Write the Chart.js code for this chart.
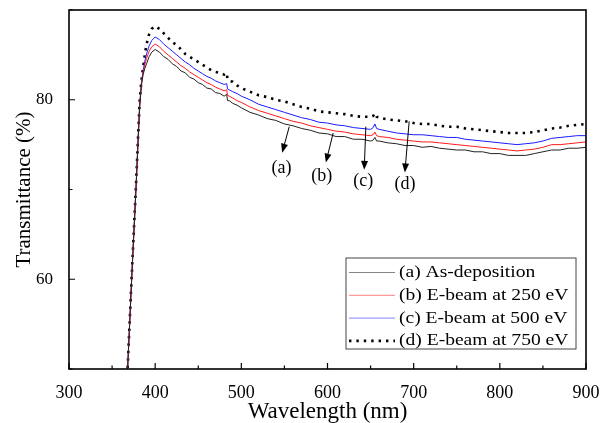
<!DOCTYPE html>
<html lang="en">
<head>
  <meta charset="UTF-8" />
  <title>Transmittance</title>
  <script src="https://cdn.jsdelivr.net/npm/chart.js@4.4.1/dist/chart.umd.min.js"></script>
  <style>
    body { margin: 0; background: #fff; }
  </style>
</head>
<body>
  <canvas id="transChart" width="610" height="423"></canvas>
<script>
  // wavelength (nm)
  const wavelength = [365,368,370,373,376,378,380,382,384,386,388,390,393,396,400,
    405,410,415,420,425,430,435,440,445,450,455,460,465,470,475,480,
    483,484,486,490,495,500,
    510,520,530,540,550,560,570,580,590,600,610,620,630,640,650,
    653,655,657,
    660,670,680,690,700,710,720,730,740,750,760,770,780,790,800,810,820,830,840,850,860,870,880,890,900];

  const asDeposition = [46.0,50.0,54.2,60.6,66.6,70.6,75.0,79.2,81.6,82.8,83.5,84.0,84.8,85.3,85.6,
    85.3,84.8,84.5,84.0,83.7,83.2,83.0,82.5,82.3,81.9,81.7,81.3,81.2,80.8,80.7,80.4,
    80.6,79.9,79.9,79.6,79.4,79.1,
    78.6,78.3,77.9,77.7,77.3,77.1,76.8,76.6,76.3,76.2,75.9,75.9,75.6,75.6,75.4,
    75.5,75.8,75.4,
    75.4,75.2,75.1,74.9,74.9,74.7,74.8,74.6,74.5,74.4,74.4,74.2,74.2,74.0,74.0,73.8,73.8,73.8,74.0,74.2,74.4,74.4,74.6,74.6,74.7];

  const ebeam250 = [46.0,50.0,54.2,60.6,66.6,70.6,75.0,79.3,81.7,83.0,83.9,84.6,85.4,85.9,86.2,
    85.9,85.4,85.0,84.6,84.2,83.8,83.5,83.1,82.8,82.5,82.2,81.9,81.7,81.4,81.2,81.0,
    81.1,80.5,80.4,80.2,79.9,79.7,
    79.2,78.8,78.5,78.2,77.9,77.6,77.4,77.1,76.9,76.7,76.5,76.4,76.2,76.1,76.0,
    76.1,76.4,76.0,
    75.9,75.8,75.6,75.5,75.4,75.3,75.3,75.2,75.1,75.0,74.9,74.8,74.7,74.6,74.5,74.4,74.3,74.4,74.5,74.7,75.0,75.0,75.1,75.2,75.3];

  const ebeam500 = [46.0,50.0,54.3,60.7,66.7,70.8,75.2,79.5,81.8,83.2,84.3,85.1,86.0,86.6,87.0,
    86.7,86.2,85.8,85.4,85.0,84.6,84.2,83.9,83.5,83.2,82.9,82.6,82.4,82.1,81.9,81.7,
    81.8,81.2,81.1,80.9,80.7,80.4,
    80.0,79.5,79.2,78.9,78.6,78.3,78.0,77.8,77.5,77.4,77.2,77.1,76.9,76.8,76.7,
    76.9,77.3,76.8,
    76.7,76.5,76.3,76.2,76.1,76.1,76.0,75.9,75.8,75.8,75.6,75.5,75.4,75.3,75.2,75.1,75.0,75.1,75.2,75.4,75.7,75.8,75.9,76.0,76.0];

  const ebeam750 = [46.0,50.0,54.4,60.8,66.9,71.0,75.5,79.8,82.1,83.6,85.0,86.2,87.3,87.9,88.2,
    87.9,87.4,86.9,86.4,86.1,85.6,85.1,84.8,84.5,84.2,83.9,83.6,83.3,83.1,83.0,82.8,
    83.0,82.3,82.1,82.0,81.6,81.3,
    80.9,80.5,80.3,80.0,79.8,79.5,79.2,79.0,78.7,78.6,78.5,78.4,78.2,78.1,78.1,
    78.2,78.5,78.1,
    78.0,77.8,77.7,77.6,77.4,77.3,77.3,77.1,77.0,77.0,76.8,76.7,76.6,76.5,76.4,76.3,76.3,76.3,76.4,76.6,76.8,76.9,77.1,77.2,77.3];

  const seriesLabels = ['(a) As-deposition', '(b) E-beam at 250 eV', '(c) E-beam at 500 eV', '(d) E-beam at 750 eV'];

  // tick positions
  const xMajorTicks = [300,400,500,600,700,800,900];
  const xMinorTicks = [350,450,550,650,750,850];
  const yMajorTicks = [60,80];
  const yMinorTicks = [50,70,90];

  // arrows with labels (a)..(d), in data units
  const annLabels = ['(a)','(b)','(c)','(d)'];
  const annFromX = [555.6, 606.6, 644.5, 694.8];
  const annFromY = [77.0, 76.3, 77.0, 77.6];
  const annToX = [547.4, 598.1, 642.6, 689.8];
  const annToY = [74.1, 73.0, 72.2, 71.9];
  const annTextX = [546.7, 593.2, 641.4, 689.8];
  const annTextY = [72.4, 71.5, 70.9, 70.6];

  function toPoints(ys) {
    return wavelength.map(function(x, i) { return {x: x, y: ys[i]}; });
  }

  const serif = 'Liberation Serif, Times New Roman, serif';

  const framePlugin = {
    id: 'frame',
    afterDraw: function(chart) {
      const ctx = chart.ctx;
      const a = chart.chartArea;
      const xs = chart.scales.x, ys = chart.scales.y;
      ctx.save();
      ctx.strokeStyle = '#000';
      ctx.lineWidth = 1.6;
      ctx.strokeRect(a.left, a.top, a.right - a.left, a.bottom - a.top);

      // inward ticks
      ctx.lineWidth = 1.2;
      ctx.beginPath();
      xMajorTicks.forEach(function(v) { const p = xs.getPixelForValue(v); ctx.moveTo(p, a.bottom); ctx.lineTo(p, a.bottom - 6); });
      xMinorTicks.forEach(function(v) { const p = xs.getPixelForValue(v); ctx.moveTo(p, a.bottom); ctx.lineTo(p, a.bottom - 3.5); });
      yMajorTicks.forEach(function(v) { const p = ys.getPixelForValue(v); ctx.moveTo(a.left, p); ctx.lineTo(a.left + 6, p); });
      yMinorTicks.forEach(function(v) { const p = ys.getPixelForValue(v); ctx.moveTo(a.left, p); ctx.lineTo(a.left + 3.5, p); });
      ctx.stroke();

      // arrows
      ctx.fillStyle = '#000';
      ctx.lineWidth = 1;
      for (var i = 0; i < annLabels.length; i++) {
        const x1 = xs.getPixelForValue(annFromX[i]), y1 = ys.getPixelForValue(annFromY[i]);
        const x2 = xs.getPixelForValue(annToX[i]), y2 = ys.getPixelForValue(annToY[i]);
        const ang = Math.atan2(y2 - y1, x2 - x1);
        ctx.beginPath();
        ctx.moveTo(x1, y1);
        ctx.lineTo(x2 - 7 * Math.cos(ang), y2 - 7 * Math.sin(ang));
        ctx.stroke();
        ctx.beginPath();
        ctx.moveTo(x2, y2);
        ctx.lineTo(x2 - 9 * Math.cos(ang) + 3.5 * Math.sin(ang), y2 - 9 * Math.sin(ang) - 3.5 * Math.cos(ang));
        ctx.lineTo(x2 - 9 * Math.cos(ang) - 3.5 * Math.sin(ang), y2 - 9 * Math.sin(ang) + 3.5 * Math.cos(ang));
        ctx.closePath();
        ctx.fill();
        ctx.font = '18px ' + serif;
        ctx.textAlign = 'center';
        ctx.textBaseline = 'middle';
        ctx.fillText(annLabels[i], xs.getPixelForValue(annTextX[i]), ys.getPixelForValue(annTextY[i]));
      }

      // legend box
      const bx = 346, by = 258, bw = 230, bh = 91;
      ctx.fillStyle = '#fff';
      ctx.fillRect(bx, by, bw, bh);
      ctx.strokeStyle = '#444';
      ctx.lineWidth = 1;
      ctx.strokeRect(bx, by, bw, bh);
      chart.data.datasets.forEach(function(ds, k) {
        const yy = by + 14.5 + k * 22.8;
        ctx.save();
        ctx.strokeStyle = ds.borderColor;
        ctx.lineWidth = ds.borderWidth;
        if (ds.borderDash) {
          ctx.setLineDash(ds.borderDash);
        } else {
          ctx.globalAlpha = 0.55;
        }
        ctx.beginPath();
        ctx.moveTo(bx + 3, yy);
        ctx.lineTo(bx + 49, yy);
        ctx.stroke();
        ctx.restore();
        ctx.save();
        ctx.fillStyle = '#000';
        ctx.font = '17px ' + serif;
        ctx.textAlign = 'left';
        ctx.textBaseline = 'middle';
        ctx.translate(bx + 53, yy);
        ctx.scale(1.15, 1);
        ctx.fillText(ds.label, 0, 0);
        ctx.restore();
      });
      ctx.restore();
    }
  };

  const config = {
    type: 'line',
    data: {
      datasets: [
        { label: seriesLabels[0], data: toPoints(asDeposition), borderColor: '#222', borderWidth: 1, pointRadius: 0 },
        { label: seriesLabels[1], data: toPoints(ebeam250), borderColor: '#ff1a1a', borderWidth: 1, pointRadius: 0 },
        { label: seriesLabels[2], data: toPoints(ebeam500), borderColor: '#1a1aff', borderWidth: 1, pointRadius: 0 },
        { label: seriesLabels[3], data: toPoints(ebeam750), borderColor: '#000', borderWidth: 2.6, borderDash: [2.4, 5], pointRadius: 0 }
      ]
    },
    options: {
      responsive: false,
      animation: false,
      devicePixelRatio: 1,
      layout: { padding: { top: 0, right: 24, bottom: 0, left: 0 } },
      plugins: { legend: { display: false }, tooltip: { enabled: false } },
      scales: {
        x: {
          type: 'linear', min: 300, max: 900,
          afterFit: function(s) { s.height = 54; },
          grid: { display: false },
          border: { display: false },
          ticks: { stepSize: 100, padding: 5, color: '#000', font: { family: serif, size: 18 } },
          title: { display: true, text: 'Wavelength (nm)', color: '#000', padding: 0,
                   font: { family: serif, size: 23, lineHeight: 1 } }
        },
        y: {
          min: 50, max: 90,
          afterFit: function(s) { s.width = 69; s.paddingTop = 10; },
          grid: { display: false },
          border: { display: false },
          ticks: { stepSize: 10, padding: 8, color: '#000', font: { family: serif, size: 17 },
                   callback: function(v) { return yMajorTicks.indexOf(v) >= 0 ? v : ''; } },
          title: { display: true, text: 'Transmittance (%)', color: '#000', padding: { top: 14, bottom: 0 },
                   font: { family: serif, size: 21, lineHeight: 1 } }
        }
      }
    },
    plugins: [framePlugin]
  };

  new Chart(document.getElementById('transChart'), config);
</script>
</body>
</html>
